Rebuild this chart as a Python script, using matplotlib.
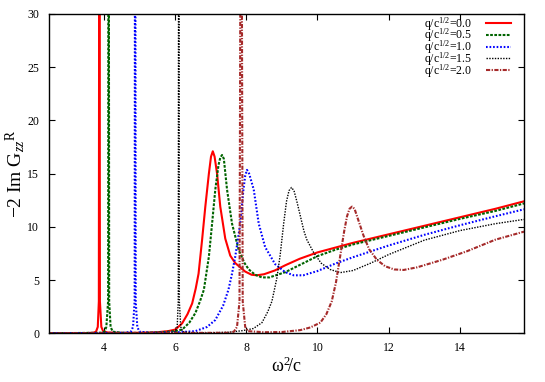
### Imaginary part of the zz Green function vs omega^2/c
### for several values of q/c^(1/2)

import matplotlib
matplotlib.use('Agg')
import matplotlib.pyplot as pp

##### DATA #####

labels = ['q/c$^{1/2}$=0.0', 'q/c$^{1/2}$=0.5', 'q/c$^{1/2}$=1.0',
          'q/c$^{1/2}$=1.5', 'q/c$^{1/2}$=2.0']

x_q00 = [2.46, 3.5, 3.7, 3.78, 3.83, 3.86, 3.875, 3.89, 3.93, 3.98, 4.1, 4.5, 5.0,
         5.5, 5.8, 6.01, 6.2, 6.35, 6.48, 6.58, 6.66, 6.76, 6.85, 6.95, 7.01,
         7.06, 7.11, 7.18, 7.27, 7.41, 7.55, 7.69, 7.97, 8.15, 8.3, 8.5, 8.8,
         9.1, 9.5, 10.0, 10.5, 11.0, 12.0, 13.0, 14.0, 15.0, 15.8]
y_q00 = [0.0, 0.02, 0.05, 0.15, 0.6, 3.0, 60.0, 3.0, 0.6, 0.2, 0.08, 0.04, 0.05,
         0.1, 0.2, 0.35, 0.94, 1.8, 2.8, 4.2, 5.6, 8.8, 11.9, 15.0, 16.6,
         17.1, 16.6, 15.0, 11.9, 8.9, 7.3, 6.6, 5.8, 5.5, 5.45, 5.55, 5.9,
         6.4, 7.0, 7.6, 8.05, 8.5, 9.3, 10.1, 10.9, 11.7, 12.4]

x_q05 = [2.46, 3.9, 4.02, 4.07, 4.12, 4.135, 4.15, 4.19, 4.25, 4.5, 5.0, 5.5, 6.0,
         6.2, 6.4, 6.57, 6.7, 6.81, 6.95, 7.04, 7.13, 7.22, 7.27, 7.32, 7.37,
         7.46, 7.6, 7.79, 7.95, 8.07, 8.25, 8.44, 8.65, 9.1, 9.52, 10.0, 10.5,
         11.0, 12.0, 13.0, 14.0, 15.0, 15.8]
y_q05 = [0.0, 0.05, 0.15, 0.6, 3.0, 60.0, 3.0, 0.6, 0.15, 0.05, 0.04, 0.08, 0.2,
         0.35, 1.0, 1.9, 3.0, 4.1, 7.2, 10.3, 13.5, 15.8, 16.5, 16.75, 16.4,
         13.5, 10.3, 7.8, 6.6, 6.0, 5.5, 5.25, 5.25, 5.75, 6.45, 7.25, 7.85,
         8.35, 9.15, 9.95, 10.75, 11.5, 12.2]

x_q10 = [2.46, 4.6, 4.76, 4.82, 4.865, 4.88, 4.895, 4.94, 5.0, 5.3, 6.0, 6.57, 6.9,
         7.13, 7.35, 7.5, 7.6, 7.69, 7.76, 7.83, 7.92, 7.97, 8.02, 8.08, 8.21,
         8.35, 8.53, 8.81, 9.09, 9.33, 9.6, 10.0, 10.5, 11.0, 12.0, 13.0, 14.0,
         15.0, 15.8]
y_q10 = [0.0, 0.05, 0.15, 0.6, 3.0, 60.0, 3.0, 0.6, 0.15, 0.05, 0.08, 0.2, 0.6,
         1.25, 2.6, 4.1, 5.6, 7.2, 8.7, 10.3, 13.5, 14.8, 15.35, 15.0, 13.5,
         10.3, 8.1, 6.5, 5.75, 5.45, 5.45, 5.85, 6.55, 7.15, 8.25, 9.25, 10.15,
         11.0, 11.65]

x_q15 = [2.46, 5.9, 6.0, 6.06, 6.09, 6.105, 6.12, 6.16, 6.22, 6.5, 7.0, 7.5, 7.9,
         8.2, 8.44, 8.6, 8.72, 8.86, 8.95, 9.05, 9.13, 9.2, 9.27, 9.34, 9.42,
         9.52, 9.62, 9.7, 9.89, 10.1, 10.35, 10.64, 11.0, 11.5, 12.0, 13.0, 14.0,
         15.0, 15.8]
y_q15 = [0.0, 0.05, 0.15, 0.6, 3.0, 60.0, 3.0, 0.6, 0.15, 0.05, 0.05, 0.1, 0.25,
         0.45, 1.0, 2.0, 3.0, 5.2, 7.3, 10.3, 12.4, 13.4, 13.7, 13.4, 12.4,
         11.0, 9.6, 8.8, 7.6, 6.6, 6.0, 5.7, 5.9, 6.6, 7.4, 8.75, 9.65,
         10.3, 10.7]

x_q20 = [2.46, 7.5, 7.65, 7.74, 7.81, 7.855, 7.9, 7.97, 8.05, 8.5, 9.0, 9.52, 9.8,
         10.08, 10.25, 10.4, 10.52, 10.64, 10.75, 10.83, 10.9, 10.97, 11.04,
         11.12, 11.29, 11.45, 11.67, 11.9, 12.15, 12.42, 12.8, 13.5, 14.19,
         15.0, 15.8]
y_q20 = [0.0, 0.05, 0.15, 0.6, 3.0, 60.0, 3.0, 0.6, 0.2, 0.1, 0.12, 0.3, 0.55,
         1.0, 1.8, 3.0, 4.8, 7.3, 9.6, 11.0, 11.7, 11.9, 11.7,
         10.9, 9.2, 7.9, 6.9, 6.3, 6.0, 5.95, 6.2, 6.9, 7.7,
         8.8, 9.55]

##### PLOT #####

pp.rcParams['font.family'] = ['Liberation Serif', 'DejaVu Serif']
pp.rcParams['mathtext.fontset'] = 'custom'
pp.rcParams['mathtext.rm'] = 'Liberation Serif'
pp.rcParams['mathtext.it'] = 'Liberation Serif:italic'

fig = pp.figure(figsize=(5.45, 3.82), dpi=100)
ax = fig.add_axes([0.0899, 0.1275, 0.8716, 0.8359])

ax.plot(x_q00, y_q00, color='#ff0000', lw=1.5, ls='-', label=labels[0])
ax.plot(x_q05, y_q05, color='#006400', lw=1.5, ls=(0, (1.3, 0.7)), label=labels[1])
ax.plot(x_q10, y_q10, color='#0000ff', lw=1.5, ls=(0, (0.8, 0.9)), label=labels[2])
ax.plot(x_q15, y_q15, color='#000000', lw=1.0, ls=(0, (1.0, 1.0)), label=labels[3])
ax.plot(x_q20, y_q20, color='#a52a2a', lw=1.5, ls=(0, (2.0, 0.7, 0.6, 0.7)), label=labels[4])

ax.set_xlim(2.46, 15.8)
ax.set_ylim(0, 30)
ax.set_xticks([4, 6, 8, 10, 12, 14])
ax.set_yticks([0, 5, 10, 15, 20, 25, 30])
ax.tick_params(direction='in', top=True, right=True, labelsize=8.5, length=4, width=0.8)
ax.tick_params(axis='x', pad=6)
ax.tick_params(axis='y', pad=7)
for sp in ax.spines.values():
    sp.set_linewidth(1.0)

ax.set_xlabel(r'$\mathrm{\omega}^{2}\!$/c', fontsize=13, labelpad=2)
ax.set_ylabel(r'$-2\ \mathrm{Im}\ \mathrm{G}_{zz}{}^{\mathrm{R}}$', fontsize=14, labelpad=0)

ax.legend(loc='upper right', frameon=False, markerfirst=False, fontsize=8.5,
          handlelength=2.1, labelspacing=-0.5, handletextpad=1.2,
          bbox_to_anchor=(0.975, 1.0), borderpad=0.1, borderaxespad=0.0)

pp.savefig('out.png', dpi=100)
pp.close()
